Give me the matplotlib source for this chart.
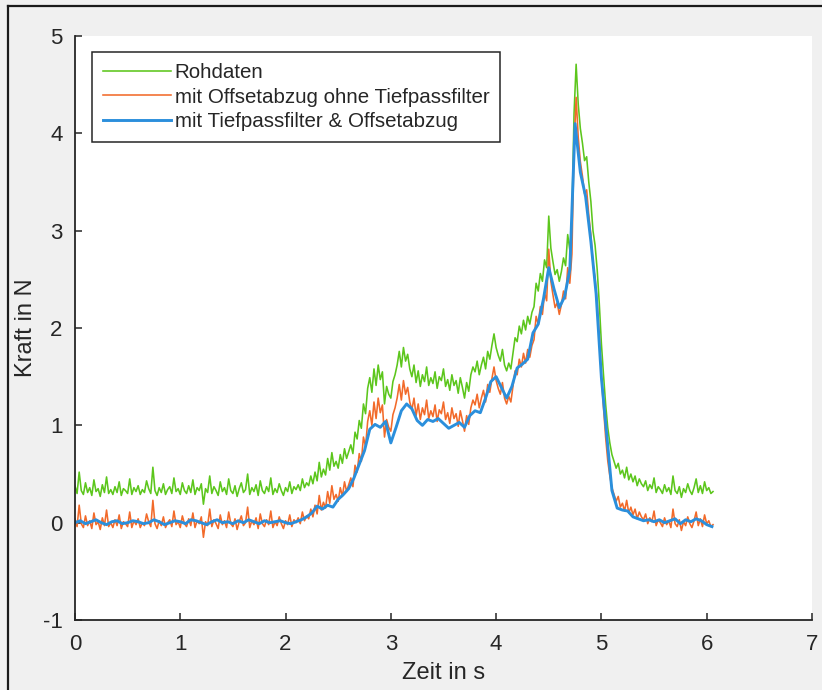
import numpy as np
import matplotlib.pyplot as plt
from matplotlib.lines import Line2D

plt.rcParams['font.family'] = ['Liberation Sans', 'DejaVu Sans']
plt.rcParams['axes.unicode_minus'] = False

# Rohdaten der Kraftmessung, Abtastung alle 0.02 s (ab t = 0)
dt_raw = 0.02
kraft_roh = [
    0.38, 0.30, 0.52, 0.33, 0.29, 0.41, 0.31, 0.36, 0.28, 0.44,
    0.32, 0.35, 0.27, 0.39, 0.31, 0.47, 0.30, 0.34, 0.29, 0.37,
    0.31, 0.42, 0.28, 0.35, 0.33, 0.30, 0.45, 0.29, 0.36, 0.32,
    0.38, 0.29, 0.34, 0.31, 0.43, 0.35, 0.30, 0.57, 0.33, 0.28,
    0.36, 0.31, 0.40, 0.29, 0.34, 0.37, 0.30, 0.46, 0.32, 0.35,
    0.29, 0.41, 0.33, 0.30, 0.38, 0.31, 0.44, 0.29, 0.36, 0.33,
    0.40, 0.19, 0.35, 0.31, 0.48, 0.30, 0.37, 0.33, 0.28, 0.42,
    0.32, 0.36, 0.29, 0.45, 0.33, 0.30, 0.38, 0.27, 0.35, 0.41,
    0.31, 0.34, 0.50, 0.29, 0.36, 0.32, 0.39, 0.28, 0.43, 0.33,
    0.30, 0.37, 0.32, 0.46, 0.29, 0.35, 0.31, 0.40, 0.33, 0.28,
    0.36, 0.32, 0.42, 0.30, 0.37, 0.34, 0.39, 0.33, 0.45, 0.36,
    0.41, 0.38, 0.48, 0.40, 0.52, 0.43, 0.62, 0.47, 0.55, 0.49,
    0.66, 0.54, 0.72, 0.58, 0.63, 0.56, 0.70, 0.61, 0.76, 0.66,
    0.73, 0.80, 0.71, 0.93, 0.86, 1.05, 0.97, 1.22, 1.12, 1.38,
    1.49, 1.34, 1.58, 1.41, 1.62, 1.47, 1.55, 1.22, 1.40, 1.32,
    1.28, 1.45, 1.52, 1.62, 1.76, 1.60, 1.80, 1.66, 1.73, 1.58,
    1.50, 1.62, 1.44, 1.56, 1.40, 1.52, 1.45, 1.60, 1.41, 1.49,
    1.43, 1.55, 1.38, 1.50, 1.46, 1.58, 1.40, 1.47, 1.36, 1.52,
    1.41, 1.46, 1.33, 1.49, 1.39, 1.28, 1.44, 1.35, 1.52, 1.60,
    1.55, 1.66, 1.52, 1.62, 1.70, 1.58, 1.76, 1.68, 1.82, 1.94,
    1.80, 1.72, 1.66, 1.78, 1.62, 1.56, 1.64, 1.58, 1.74, 1.90,
    1.86, 2.02, 1.94, 2.08, 1.98, 2.12, 2.04, 2.16, 2.22, 2.46,
    2.38, 2.56, 2.48, 2.70, 2.62, 3.15, 2.82, 2.68, 2.55, 2.60,
    2.48, 2.58, 2.72, 2.64, 2.96, 2.80, 3.10, 4.20, 4.71, 4.30,
    4.05, 3.90, 3.72, 3.76, 3.50, 3.30, 3.00, 2.85, 2.60, 2.25,
    1.84, 1.52, 1.22, 0.98, 0.82, 0.70, 0.63, 0.56, 0.61, 0.50,
    0.54, 0.46, 0.57, 0.44, 0.50, 0.42, 0.48, 0.38, 0.45, 0.40,
    0.37, 0.43, 0.33, 0.39, 0.35, 0.46, 0.31, 0.37, 0.34, 0.30,
    0.39, 0.32, 0.36, 0.29, 0.48, 0.33, 0.30, 0.37, 0.26, 0.35,
    0.31, 0.40, 0.33, 0.29, 0.36, 0.45, 0.31, 0.38, 0.30, 0.42,
    0.33, 0.36, 0.30, 0.32,
]

# Nullpunkt-Offset des Sensors (Mittelwert im unbelasteten Zustand)
offset = 0.34

# tiefpassgefiltertes Signal mit Offsetabzug, alle 0.05 s
dt_filt = 0.05
kraft_filt = [
    0.00, 0.02, -0.01, 0.01, 0.03, 0.00, -0.02, 0.01, 0.02, -0.01,
    0.00, 0.02, 0.01, -0.01, 0.00, 0.03, 0.01, -0.02, 0.00, 0.02,
    0.01, -0.01, 0.03, 0.02, 0.00, -0.02, 0.01, 0.03, 0.00, 0.01,
    -0.01, 0.02, 0.00, 0.03, 0.01, -0.01, 0.02, 0.00, 0.01, 0.02,
    0.00, -0.01, 0.01, 0.03, 0.06, 0.10, 0.17, 0.14, 0.18, 0.16,
    0.24, 0.29, 0.35, 0.46, 0.60, 0.74, 0.96, 1.01, 0.98, 1.04,
    0.82, 0.98, 1.15, 1.22, 1.17, 1.05, 1.00, 1.06, 1.04, 1.07,
    1.02, 0.97, 1.00, 1.03, 0.98, 1.10, 1.15, 1.13, 1.28, 1.45,
    1.50, 1.39, 1.28, 1.40, 1.59, 1.63, 1.68, 1.95, 2.04, 2.30,
    2.62, 2.40, 2.21, 2.32, 2.60, 4.10, 3.60, 3.35, 2.89, 2.35,
    1.49, 0.91, 0.33, 0.15, 0.13, 0.12, 0.06, 0.04, 0.02, 0.03,
    0.01, 0.03, 0.00, 0.02, 0.04, -0.01, 0.03, 0.01, 0.04, 0.02,
    -0.02, -0.04,
]

t_roh = np.arange(len(kraft_roh)) * dt_raw
t_filt = np.arange(len(kraft_filt)) * dt_filt
kraft_ohne_offset = np.array(kraft_roh) - offset

fig = plt.figure(figsize=(8.22, 6.9), dpi=100, facecolor='#f0f0f0')
ax = fig.add_axes([0.0912, 0.1014, 0.8966, 0.8464])
ax.set_facecolor('white')

ax.plot(t_roh, kraft_roh, color='#5cc61c', lw=1.15, label='Rohdaten')
ax.plot(t_roh, kraft_ohne_offset, color='#f26a2a', lw=1.15,
        label='mit Offsetabzug ohne Tiefpassfilter')
ax.plot(t_filt, kraft_filt, color='#2b8fdc', lw=2.1,
        label='mit Tiefpassfilter & Offsetabzug')

ax.set_xlim(0, 7)
ax.set_ylim(-1, 5)
ax.set_xticks(range(0, 8))
ax.set_yticks(range(-1, 6))

for side in ['top', 'right']:
    ax.spines[side].set_visible(False)
for side in ['left', 'bottom']:
    ax.spines[side].set_color('#262626')
    ax.spines[side].set_linewidth(1.3)

ax.tick_params(direction='in', length=5, width=1.1, color='#262626',
               labelsize=16, labelcolor='#262626')
ax.tick_params(axis='x', pad=10)
ax.tick_params(axis='y', pad=9)

ax.set_xlabel('Zeit in s', fontsize=17, color='#262626')
ax.set_ylabel('Kraft in N', fontsize=17, color='#262626')
ax.xaxis.set_label_coords(0.5, -0.072)
ax.yaxis.set_label_coords(-0.052, 0.5)

leg = ax.legend(loc='upper left', bbox_to_anchor=(0.023, 0.9726),
                fontsize=14.8, frameon=True, fancybox=False,
                borderaxespad=0, handlelength=3.3, handletextpad=0.2,
                labelspacing=0.28, borderpad=0.53)
leg.get_frame().set_edgecolor('#262626')
leg.get_frame().set_linewidth(1.1)
leg.get_frame().set_alpha(1)
for txt in leg.get_texts():
    txt.set_color('#262626')

# Rahmen links und oben
fig.add_artist(Line2D([0.0097, 0.0097], [0, 0.991], color='#1a1a1a', lw=1.6))
fig.add_artist(Line2D([0.0097, 1], [0.991, 0.991], color='#1a1a1a', lw=1.6))

fig.savefig('out.png', dpi=100, facecolor=fig.get_facecolor())
